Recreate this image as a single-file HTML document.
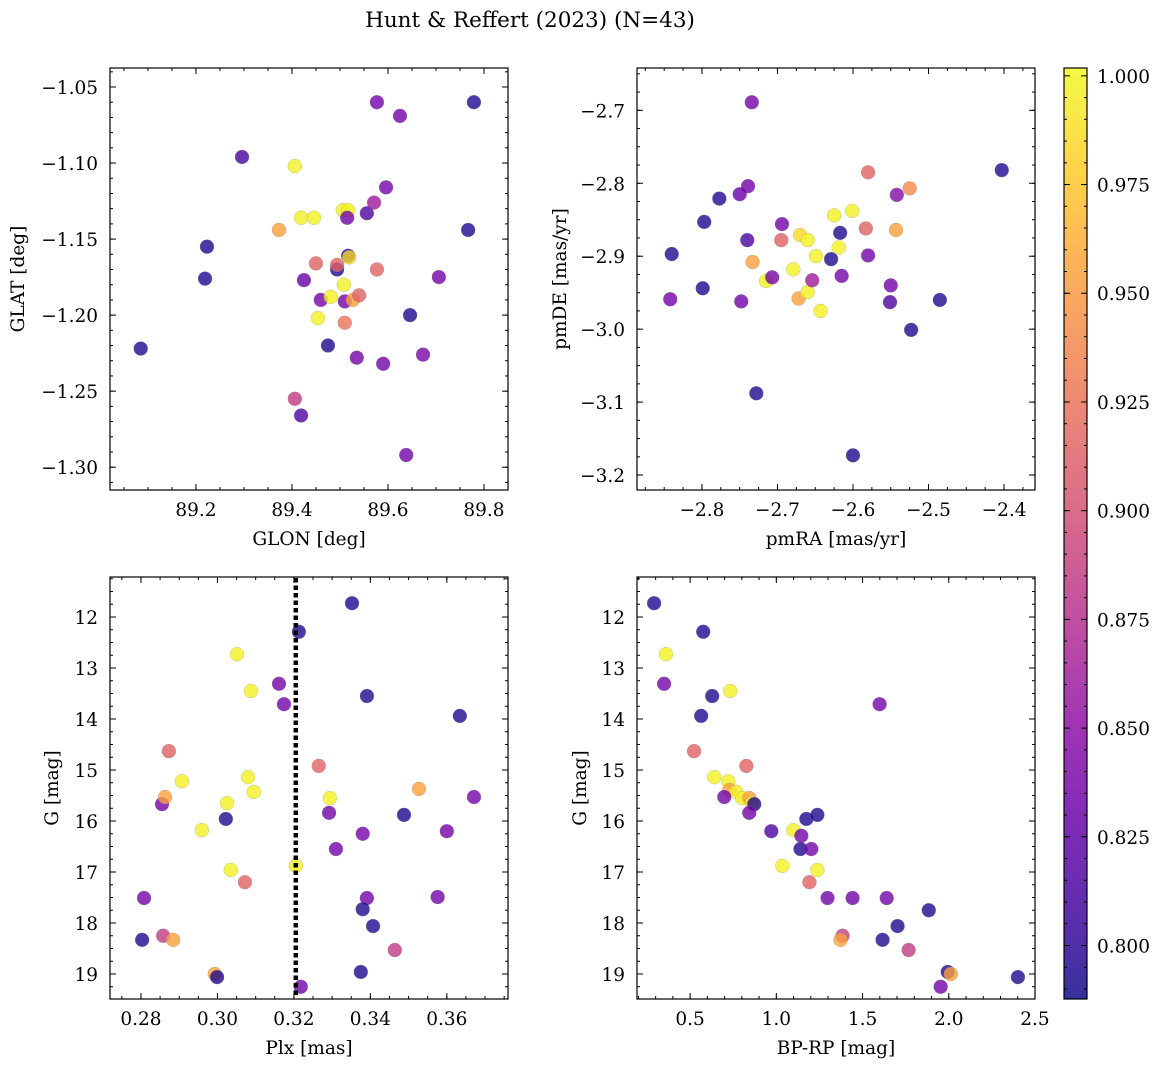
<!DOCTYPE html>
<html><head><meta charset="utf-8">
<style>
body{margin:0;background:#fff;}
svg{display:block;font-family:"DejaVu Serif","Liberation Serif",serif;}
</style></head>
<body>
<svg id="fig" width="1161" height="1067" viewBox="0 0 1161 1067">
<text x="530" y="27" text-anchor="middle" font-size="21.5">Hunt &amp; Reffert (2023) (N=43)</text>
</svg>
<script>
// Panel 1: GLON vs GLAT
const p1x=[89.085,89.223,89.219,89.296,89.406,89.373,89.419,89.446,89.425,89.450,89.460,89.454,89.481,89.475,89.494,89.494,89.506,89.517,89.515,89.508,89.517,89.519,89.510,89.510,89.527,89.540,89.535,89.556,89.571,89.577,89.596,89.577,89.590,89.625,89.646,89.673,89.638,89.406,89.419,89.706,89.767,89.779];
const p1y=[-1.222,-1.155,-1.176,-1.096,-1.102,-1.144,-1.136,-1.136,-1.177,-1.166,-1.190,-1.202,-1.188,-1.220,-1.170,-1.167,-1.131,-1.131,-1.136,-1.180,-1.161,-1.162,-1.191,-1.205,-1.190,-1.187,-1.228,-1.133,-1.126,-1.060,-1.116,-1.170,-1.232,-1.069,-1.200,-1.226,-1.292,-1.255,-1.266,-1.175,-1.144,-1.060];
const p1c=[0.795,0.795,0.795,0.81,0.998,0.955,0.998,0.998,0.83,0.915,0.835,0.998,0.998,0.795,0.795,0.915,0.998,0.998,0.835,0.998,0.795,0.985,0.835,0.925,0.955,0.915,0.835,0.815,0.86,0.835,0.835,0.915,0.835,0.835,0.795,0.84,0.835,0.885,0.815,0.835,0.795,0.795];
// Panel 2: pmRA vs pmDE
const p2x=[-2.734,-2.739,-2.750,-2.777,-2.797,-2.840,-2.842,-2.799,-2.740,-2.748,-2.733,-2.715,-2.707,-2.694,-2.695,-2.728,-2.679,-2.670,-2.660,-2.672,-2.660,-2.654,-2.649,-2.643,-2.625,-2.629,-2.617,-2.619,-2.615,-2.601,-2.600,-2.580,-2.583,-2.580,-2.550,-2.551,-2.542,-2.543,-2.525,-2.523,-2.485,-2.403];
const p2y=[-2.689,-2.804,-2.815,-2.821,-2.853,-2.897,-2.959,-2.944,-2.878,-2.962,-2.908,-2.934,-2.929,-2.856,-2.878,-3.088,-2.918,-2.871,-2.878,-2.958,-2.949,-2.933,-2.900,-2.975,-2.844,-2.904,-2.868,-2.888,-2.927,-2.838,-3.173,-2.785,-2.862,-2.899,-2.940,-2.963,-2.816,-2.864,-2.807,-3.001,-2.960,-2.782];
const p2c=[0.835,0.835,0.83,0.795,0.795,0.795,0.835,0.795,0.815,0.835,0.955,0.998,0.835,0.835,0.915,0.795,0.998,0.985,0.998,0.955,0.998,0.86,0.998,0.998,0.998,0.795,0.795,0.998,0.835,0.998,0.795,0.915,0.915,0.835,0.835,0.815,0.845,0.955,0.94,0.795,0.795,0.795];
// Panel 3: Plx vs G
const p3x=[0.3352,0.3213,0.3051,0.3088,0.3161,0.3174,0.3391,0.3634,0.2873,0.2907,0.2855,0.2863,0.3080,0.3095,0.3025,0.3022,0.2959,0.3035,0.3072,0.2808,0.2803,0.2858,0.2884,0.2993,0.2999,0.3205,0.3218,0.3265,0.3294,0.3292,0.3310,0.3380,0.3391,0.3380,0.3407,0.3375,0.3464,0.3488,0.3527,0.3576,0.3600,0.3671];
const p3y=[11.73,12.29,12.73,13.45,13.31,13.71,13.55,13.94,14.63,15.22,15.67,15.53,15.14,15.43,15.65,15.96,16.18,16.96,17.20,17.51,18.33,18.25,18.33,19.00,19.06,16.88,19.25,14.92,15.55,15.84,16.55,16.25,17.51,17.73,18.06,18.96,18.53,15.88,15.37,17.49,16.20,15.53];
const p3c=[0.795,0.795,0.998,0.998,0.835,0.835,0.795,0.795,0.915,0.998,0.835,0.955,0.998,0.998,0.998,0.795,0.998,0.998,0.915,0.835,0.795,0.885,0.955,0.955,0.795,0.998,0.835,0.915,0.998,0.835,0.835,0.835,0.835,0.795,0.795,0.795,0.885,0.795,0.955,0.835,0.835,0.835];
// Panel 4: BP-RP vs G
const p4x=[0.291,0.360,0.576,0.349,0.628,0.733,0.564,1.599,0.523,0.640,0.721,0.727,0.767,0.698,0.826,0.802,0.843,0.860,0.872,0.843,0.971,1.174,1.238,1.099,1.145,1.140,1.203,1.035,1.238,1.192,1.297,1.442,1.640,1.884,1.703,1.616,1.384,1.372,1.767,1.994,2.012,1.953,2.401];
const p4y=[11.73,12.73,12.29,13.31,13.55,13.45,13.94,13.71,14.63,15.14,15.22,15.39,15.43,15.53,14.92,15.55,15.55,15.65,15.67,15.84,16.20,15.96,15.88,16.18,16.29,16.55,16.55,16.88,16.96,17.20,17.51,17.51,17.51,17.75,18.06,18.33,18.25,18.33,18.53,18.96,19.00,19.25,19.06];
const p4c=[0.795,0.998,0.795,0.835,0.795,0.998,0.795,0.835,0.915,0.998,0.998,0.955,0.998,0.835,0.915,0.998,0.955,0.998,0.795,0.835,0.815,0.795,0.795,0.998,0.835,0.795,0.835,0.998,0.998,0.915,0.835,0.835,0.835,0.795,0.795,0.795,0.885,0.955,0.885,0.795,0.955,0.835,0.795];
const xt1=[89.2,89.4,89.6,89.8], yt1=[-1.05,-1.10,-1.15,-1.20,-1.25,-1.30];
const xt2=[-2.8,-2.7,-2.6,-2.5,-2.4], yt2=[-2.7,-2.8,-2.9,-3.0,-3.1,-3.2];
const xt3=[0.28,0.30,0.32,0.34,0.36], yt3=[12,13,14,15,16,17,18,19];
const xt4=[0.5,1.0,1.5,2.0,2.5], yt4=[12,13,14,15,16,17,18,19];
const cbTicks=[0.800,0.825,0.850,0.875,0.900,0.925,0.950,0.975,1.000];
const plxLine=0.3205;

const FS=18.5;
const NS="http://www.w3.org/2000/svg";
const svg=document.getElementById('fig');
function mk(tag,attrs,parent){const e=document.createElementNS(NS,tag);for(const k in attrs)e.setAttribute(k,attrs[k]);(parent||svg).appendChild(e);return e;}
const stops=["#0d0887","#41049d","#6a00a8","#8f0da4","#b12a90","#cc4778","#e16462","#f2844b","#fca636","#fcce25","#f0f921"];
const CMIN=0.7877,CMAX=1.0018;
function hx(h){return [1,3,5].map(i=>parseInt(h.substr(i,2),16));}
function cmap(v){let t=(v-CMIN)/(CMAX-CMIN);t=Math.max(0,Math.min(1,t));const f=t*10,i=Math.min(9,Math.floor(f)),r=f-i;const a=hx(stops[i]),b=hx(stops[i+1]);return 'rgb('+a.map((x,j)=>Math.round(x+(b[j]-x)*r)).join(',')+')';}
function fmt(v,d){return (v<0?'\u2212':'')+Math.abs(v).toFixed(d);}

function panel(name,box,xr,yr,xs,ys,cs,xt,yt,xd,yd,xlab,ylab,minorX,minorY){
  const [L,T,R,B]=box;
  const g=mk('g',{});
  
  
  const sx=v=>L+(v-xr[0])/(xr[1]-xr[0])*(R-L);
  const sy=v=>T+(yr[1]-v)/(yr[1]-yr[0])*(B-T);
  for(let i=0;i<xs.length;i++){
    const c=mk('circle',{cx:sx(xs[i]),cy:sy(ys[i]),r:7,fill:cmap(cs[i]),'fill-opacity':0.8,stroke:'#888','stroke-width':0.4,'stroke-opacity':0.6},g);
    
    
  }
  const fr=mk('rect',{x:L,y:T,width:R-L,height:B-T,fill:'none',stroke:'#000','stroke-width':1.2},g);
  
  
  const lo=Math.min(yr[0],yr[1]),hi=Math.max(yr[0],yr[1]);
  for(let v=Math.ceil(xr[0]/minorX)*minorX;v<=xr[1];v+=minorX){const x=sx(v);mk('line',{x1:x,y1:B,x2:x,y2:B-3,stroke:'#000'},g);mk('line',{x1:x,y1:T,x2:x,y2:T+3,stroke:'#000'},g);}
  for(let v=Math.ceil(lo/minorY)*minorY;v<=hi;v+=minorY){const y=sy(v);mk('line',{x1:L,y1:y,x2:L+3,y2:y,stroke:'#000'},g);mk('line',{x1:R,y1:y,x2:R-3,y2:y,stroke:'#000'},g);}
  xt.forEach(v=>{const x=sx(v);mk('line',{x1:x,y1:B,x2:x,y2:B-6,stroke:'#000'},g);mk('line',{x1:x,y1:T,x2:x,y2:T+6,stroke:'#000'},g);
    const t=mk('text',{x:x,y:B+26,'text-anchor':'middle','font-size':FS},g);t.textContent=fmt(v,xd);
    });
  yt.forEach(v=>{const y=sy(v);mk('line',{x1:L,y1:y,x2:L+6,y2:y,stroke:'#000'},g);mk('line',{x1:R,y1:y,x2:R-6,y2:y,stroke:'#000'},g);
    const t=mk('text',{x:L-12,y:y+7,'text-anchor':'end','font-size':FS},g);t.textContent=fmt(v,yd);
    });
  const xl=mk('text',{x:(L+R)/2,y:B+55,'text-anchor':'middle','font-size':FS},g);xl.textContent=xlab;
  
  const yx=name.includes('1')?24:name.includes('2')?566:name.includes('3')?58:586;
  const yl=mk('text',{x:yx,y:(T+B)/2,'text-anchor':'middle','font-size':FS,transform:'rotate(-90 '+yx+' '+(T+B)/2+')'},g);yl.textContent=ylab;
  
  return {sx,sy};
}
panel('panel-1-position',[110,68,508,490],[89.021,89.85],[-1.315,-1.0375],p1x,p1y,p1c,xt1,yt1,1,2,'GLON [deg]','GLAT [deg]',0.05,0.01);
panel('panel-2-proper-motion',[637,68,1035,490],[-2.886,-2.359],[-3.2205,-2.642],p2x,p2y,p2c,xt2,yt2,1,1,'pmRA [mas/yr]','pmDE [mas/yr]',0.025,0.025);
const a3=panel('panel-3-parallax',[110,577,508,999],[0.2719,0.376],[19.49,11.216].map(v=>-v),p3x,p3y.map(v=>-v),p3c,xt3,[],2,0,'Plx [mas]','G [mag]',0.005,0.25);
const a4=panel('panel-4-cmd',[637,577,1035,999],[0.192,2.5],[19.49,11.216].map(v=>-v),p4x,p4y.map(v=>-v),p4c,xt4,[],1,0,'BP-RP [mag]','G [mag]',0.1,0.25);
[[a3,110,508,yt3],[a4,637,1035,yt4]].forEach(([a,L,R,yt])=>{yt.forEach(v=>{const y=a.sy(-v);
  mk('line',{x1:L,y1:y,x2:L+6,y2:y,stroke:'#000'});mk('line',{x1:R,y1:y,x2:R-6,y2:y,stroke:'#000'});
  const t=mk('text',{x:L-12,y:y+7,'text-anchor':'end','font-size':FS});t.textContent=String(v);
  });});
const ln=mk('line',{x1:a3.sx(plxLine),y1:578,x2:a3.sx(plxLine),y2:998,stroke:'#000','stroke-width':4.5,'stroke-dasharray':'4.5,3'});


const cb=mk('g',{});


const CBT=68,CBB=999,CBL=1064,CBR=1087;
for(let y=CBT;y<CBB;y++){const v=CMAX-(y-CBT)/(CBB-CBT)*(CMAX-CMIN);mk('rect',{x:CBL,y:y,width:CBR-CBL,height:1.2,fill:cmap(v),'fill-opacity':0.8},cb);}
mk('rect',{x:CBL,y:CBT,width:CBR-CBL,height:CBB-CBT,fill:'none',stroke:'#000','stroke-width':1.2},cb);
const cy=v=>CBT+(CMAX-v)/(CMAX-CMIN)*(CBB-CBT);
for(let v=0.79;v<=1.0;v+=0.005){const y=cy(v);if(y>CBT&&y<CBB){mk('line',{x1:CBR,y1:y,x2:CBR-3,y2:y,stroke:'#000'},cb);mk('line',{x1:CBL,y1:y,x2:CBL+3,y2:y,stroke:'#000'},cb);}}
cbTicks.forEach(v=>{const y=cy(v);mk('line',{x1:CBR,y1:y,x2:CBR-6,y2:y,stroke:'#000'},cb);mk('line',{x1:CBL,y1:y,x2:CBL+6,y2:y,stroke:'#000'},cb);
  const t=mk('text',{x:CBR+10,y:y+7,'font-size':FS},cb);t.textContent=v.toFixed(3);
  });
</script>
</body></html>
